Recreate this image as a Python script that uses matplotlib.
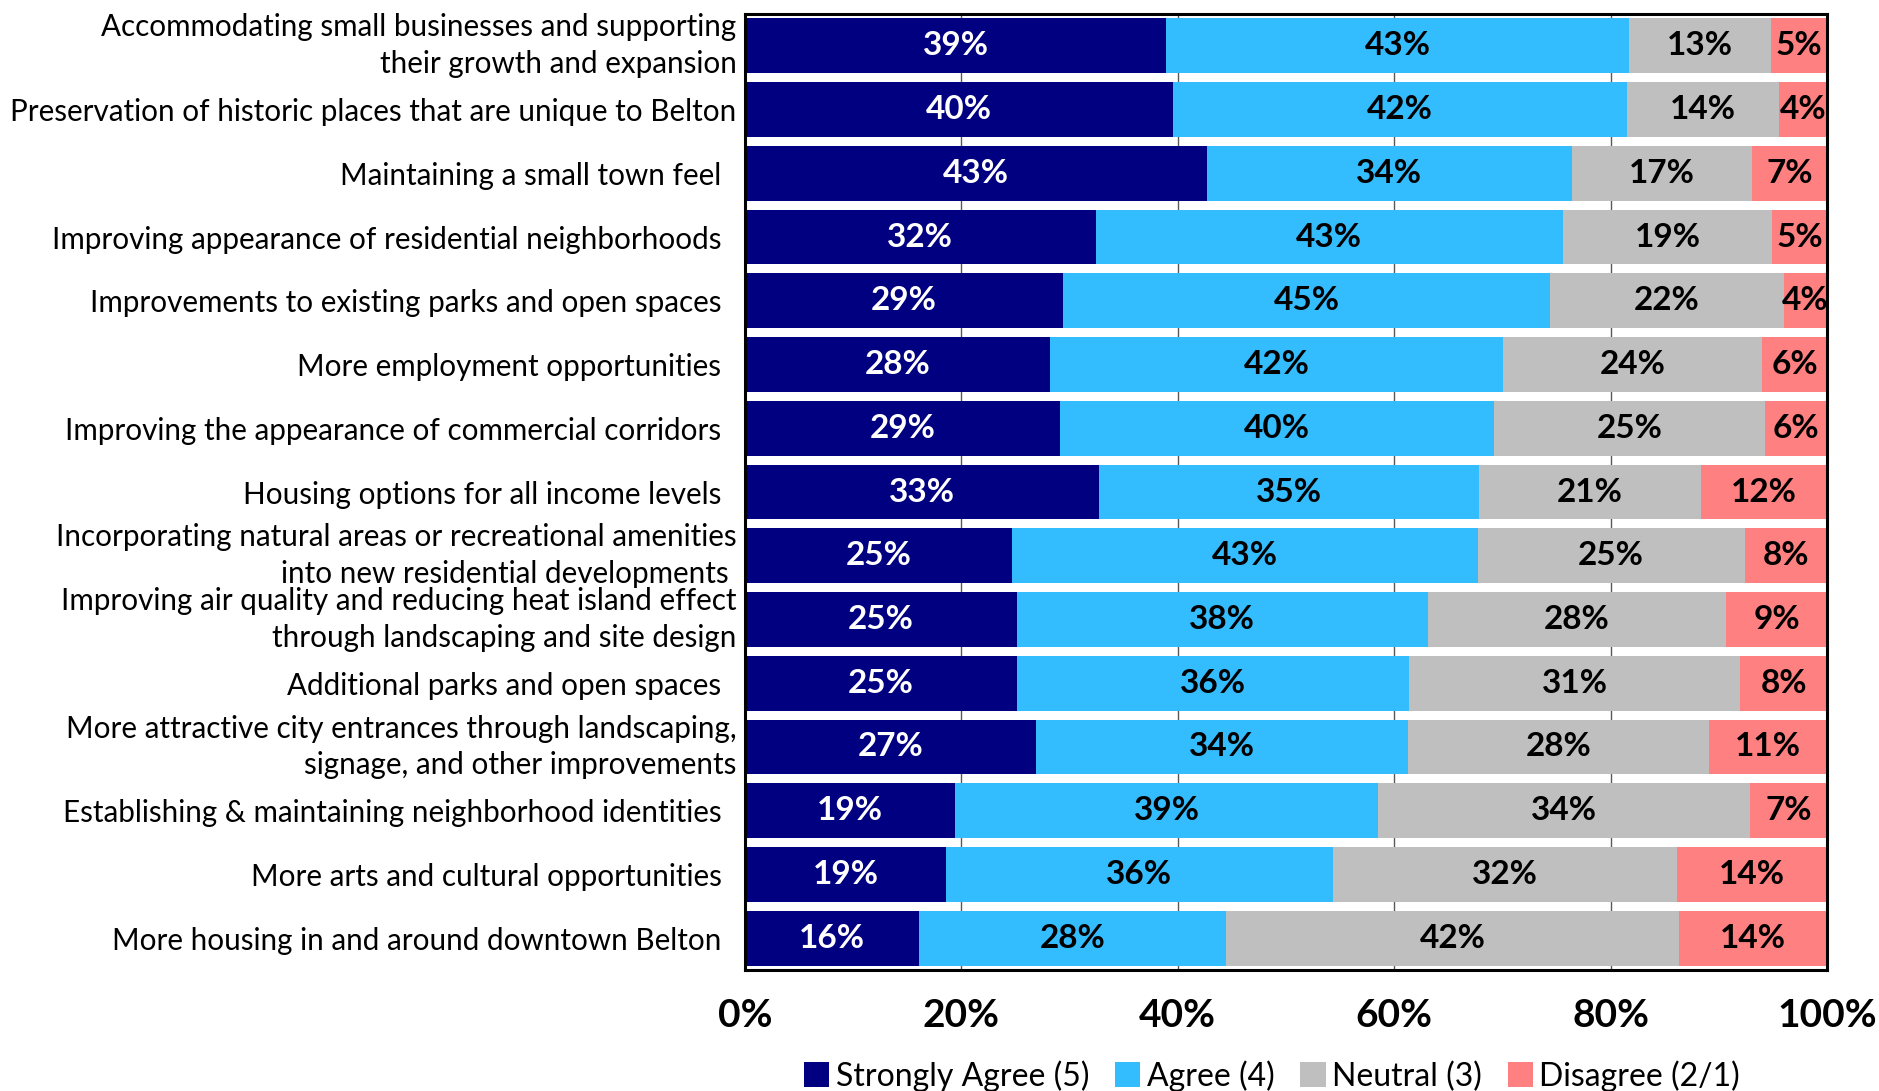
import numpy as np
import matplotlib
matplotlib.use('Agg')
from matplotlib import pyplot as plt

plt.rcParams['font.family'] = ['Lato', 'DejaVu Sans']

# survey statements, top to bottom
categories = [
    "Accommodating small businesses and supporting\ntheir growth and expansion",
    "Preservation of historic places that are unique to Belton",
    "Maintaining a small town feel  ",
    "Improving appearance of residential neighborhoods  ",
    "Improvements to existing parks and open spaces  ",
    "More employment opportunities  ",
    "Improving the appearance of commercial corridors  ",
    "Housing options for all income levels  ",
    "Incorporating natural areas or recreational amenities\ninto new residential developments ",
    "Improving air quality and reducing heat island effect\nthrough landscaping and site design",
    "Additional parks and open spaces  ",
    "More attractive city entrances through landscaping,\nsignage, and other improvements",
    "Establishing & maintaining neighborhood identities  ",
    "More arts and cultural opportunities  ",
    "More housing in and around downtown Belton  ",
]

# percent of responses
strongly_agree = [38.9, 39.6, 42.7, 32.4, 29.4, 28.2, 29.1, 32.7, 24.7, 25.1, 25.1, 26.9, 19.4, 18.6, 16.1]
agree          = [42.8, 41.9, 33.7, 43.2, 45.0, 41.9, 40.1, 35.1, 43.0, 38.0, 36.3, 34.4, 39.1, 35.7, 28.4]
neutral        = [13.1, 14.1, 16.7, 19.3, 21.6, 23.9, 25.1, 20.6, 24.7, 27.6, 30.6, 27.8, 34.4, 31.8, 41.8]
disagree       = [5.2, 4.4, 6.9, 5.1, 4.0, 6.0, 5.7, 11.6, 7.6, 9.3, 8.0, 10.9, 7.1, 13.9, 13.7]

series_names = ["Strongly Agree (5)", "Agree (4)", "Neutral (3)", "Disagree (2/1)"]
colors = ["#000080", "#33BDFF", "#BFBFBF", "#FF8080"]
text_colors = ["white", "black", "black", "black"]

W, H = 1879, 1091
fig = plt.figure(figsize=(W / 100, H / 100), dpi=100)
ax = fig.add_axes([745 / W, 1 - 970 / H, (1827 - 745) / W, (970 - 14) / H])

y = np.arange(len(categories))
left = np.zeros(len(categories))
for vals, name, col, tcol in zip([strongly_agree, agree, neutral, disagree],
                                 series_names, colors, text_colors):
    vals = np.array(vals)
    bars = ax.barh(y, vals, left=left, height=0.86, color=col, label=name, zorder=2)
    ax.bar_label(bars, labels=[f"{v:.0f}%" for v in vals], label_type='center',
                 color=tcol, fontsize=24, fontweight='bold')
    left += vals

ax.set_xlim(0, 100)
ax.set_ylim(len(categories) - 0.5, -0.5)
ax.set_yticks(y)
ax.set_yticklabels(categories, fontsize=21.3, linespacing=1.38)
for lab in ax.get_yticklabels():
    if "\n" in lab.get_text():
        lab.set_va('center')
ax.set_xticks(np.arange(0, 101, 20))
ax.set_xticklabels([f"{t}%" for t in range(0, 101, 20)], fontsize=28, fontweight='bold')
ax.tick_params(axis='y', length=0, pad=6)
ax.tick_params(axis='x', length=0, pad=20)
ax.xaxis.grid(True, color='#595959', linewidth=1, zorder=0)
ax.set_axisbelow(True)
for s in ax.spines.values():
    s.set_linewidth(2.2)
    s.set_color('black')
    s.set_zorder(3)

fig.legend(loc='center', bbox_to_anchor=(0.677, 1 - 1076 / H), ncol=4, frameon=False,
           fontsize=23, handlelength=0.8, handleheight=0.8, handletextpad=0.2,
           columnspacing=0.8, borderaxespad=0)

fig.savefig("out.png", dpi=100)
